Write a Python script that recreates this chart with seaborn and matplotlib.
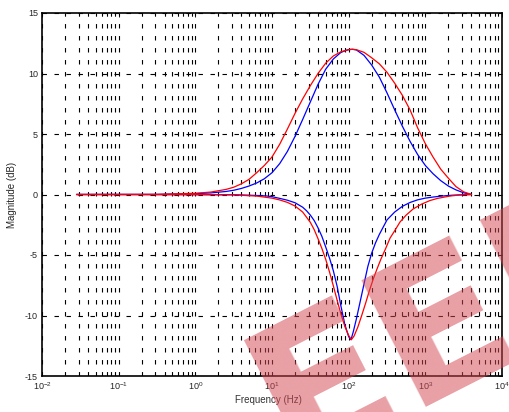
import numpy as np
import pandas as pd
import matplotlib
matplotlib.use("Agg")
import matplotlib.pyplot as plt
import seaborn as sns
from matplotlib.ticker import LogLocator, FixedLocator, NullFormatter, FuncFormatter

# Boost / cut responses of the two equalizer designs (frequency in Hz, magnitude in dB)
red_boost_f = [0.0282, 0.316, 1.0, 1.585, 2.512, 3.162, 3.981, 5.012, 6.310, 7.943, 10.0,
               12.59, 15.85, 19.95, 25.12, 31.62, 39.81, 50.12, 63.10, 79.43, 100.0, 112.2,
               125.9, 158.5, 199.5, 251.2, 316.2, 398.1, 501.2, 631.0, 794.3, 1000, 1259,
               1585, 1995, 2512, 3162, 4000]
red_boost_db = [0, 0.01, 0.1, 0.2, 0.42, 0.6, 0.88, 1.25, 1.8, 2.4, 3.1,
                4.15, 5.4, 6.7, 7.9, 9.0, 10.0, 10.85, 11.45, 11.8, 11.97, 12.0,
                11.97, 11.75, 11.3, 10.8, 10.1, 9.2, 8.2, 7.0, 5.5, 4.2, 3.1,
                2.1, 1.35, 0.65, 0.22, 0]

blue_boost_f = [0.0282, 0.316, 1.0, 1.585, 2.512, 3.162, 3.981, 5.012, 6.310, 7.943, 10.0,
                12.59, 15.85, 19.95, 25.12, 31.62, 39.81, 50.12, 63.10, 79.43, 100.0, 112.2,
                125.9, 158.5, 199.5, 251.2, 316.2, 398.1, 501.2, 631.0, 794.3, 1000, 1259,
                1585, 1995, 2512, 3162, 4000]
blue_boost_db = [0, 0.01, 0.07, 0.13, 0.25, 0.35, 0.5, 0.7, 0.95, 1.3, 1.8,
                 2.55, 3.55, 4.8, 6.2, 7.65, 9.1, 10.35, 11.2, 11.75, 11.98, 12.0,
                 11.95, 11.5, 10.7, 9.7, 8.4, 7.0, 5.65, 4.4, 3.3, 2.4, 1.72,
                 1.15, 0.7, 0.38, 0.14, 0]

red_cut_f = [0.0282, 1.0, 3.162, 6.310, 10.0, 12.59, 15.85, 19.95, 25.12, 31.62, 35.48,
             39.81, 44.67, 50.12, 56.23, 63.10, 70.79, 79.43, 89.13, 100.0, 108.4, 117.5,
             131.8, 147.9, 166.0, 186.2, 208.9, 234.4, 263.0, 302.0, 346.7, 398.1, 467.7,
             562.3, 691.8, 891.3, 1148, 1445, 1820, 2239, 2818, 4000]
red_cut_db = [0, -0.01, -0.03, -0.13, -0.3, -0.45, -0.65, -0.95, -1.45, -2.3, -2.9,
              -3.65, -4.45, -5.35, -6.4, -7.55, -8.75, -9.9, -10.9, -11.65, -12.0, -11.7,
              -10.95, -10.0, -9.0, -7.95, -7.0, -6.15, -5.35, -4.5, -3.6, -3.0, -2.27,
              -1.7, -1.2, -0.8, -0.5, -0.32, -0.2, -0.1, -0.04, 0]

blue_cut_f = [0.0282, 3.162, 6.310, 8.511, 10.0, 12.59, 15.85, 19.95, 25.12, 28.18, 31.62,
              35.48, 39.81, 44.67, 50.12, 56.23, 63.10, 70.79, 79.43, 89.13, 100.0, 107.2,
              114.8, 125.9, 141.3, 158.5, 177.8, 199.5, 223.9, 251.2, 316.2, 398.1, 501.2,
              631.0, 794.3, 1000, 1259, 1585, 1995, 2818, 4000]
blue_cut_db = [0, -0.02, -0.08, -0.12, -0.18, -0.32, -0.47, -0.68, -1.05, -1.34, -1.7,
               -2.15, -2.75, -3.45, -4.33, -5.25, -6.3, -7.6, -9.25, -10.75, -11.75, -12.0,
               -11.35, -10.3, -8.85, -7.4, -5.95, -4.85, -4.0, -3.3, -2.1, -1.45, -0.98,
               -0.66, -0.44, -0.3, -0.21, -0.14, -0.08, -0.03, 0]

y_ticks = [-15, -10, -5, 0, 5, 10, 15]
x_limits = (1e-2, 1e4)

curves = {
    "blue_cut": (blue_cut_f, blue_cut_db),
    "blue_boost": (blue_boost_f, blue_boost_db),
    "red_cut": (red_cut_f, red_cut_db),
    "red_boost": (red_boost_f, red_boost_db),
}
df = pd.concat(
    [pd.DataFrame({"curve": k, "freq": f, "mag": m}) for k, (f, m) in curves.items()],
    ignore_index=True,
)
palette = {"blue_cut": "#0000ff", "blue_boost": "#0000ff",
           "red_cut": "#ff0000", "red_boost": "#ff0000"}

sns.set_style("white")
plt.rcParams["font.family"] = ["Liberation Sans", "DejaVu Sans"]
plt.rcParams["axes.unicode_minus"] = False
plt.rcParams["mathtext.fontset"] = "custom"
plt.rcParams["mathtext.rm"] = "Liberation Sans"
plt.rcParams["mathtext.it"] = "Liberation Sans:italic"
plt.rcParams["mathtext.bf"] = "Liberation Sans:bold"

fig = plt.figure(figsize=(5.09, 4.12), dpi=100)
ax = fig.add_axes([42 / 509, 1 - 376 / 412, 460 / 509, 363 / 412])

sns.lineplot(data=df, x="freq", y="mag", hue="curve", hue_order=list(curves),
             palette=palette, estimator=None, sort=False, legend=False,
             linewidth=0.9, ax=ax)

ax.set_xscale("log")
ax.set_xlim(*x_limits)
ax.set_ylim(-15, 15)

ax.xaxis.set_major_locator(LogLocator(base=10, numticks=20))
ax.xaxis.set_minor_locator(LogLocator(base=10, subs=np.arange(2, 10), numticks=100))
ax.xaxis.set_minor_formatter(NullFormatter())
ax.xaxis.set_major_formatter(FuncFormatter(
    lambda v, p: r"$\mathregular{10^{%d}}$" % int(round(np.log10(v)))))
ax.yaxis.set_major_locator(FixedLocator(y_ticks))

# dotted-style grid, as drawn by the original plotting tool
grid_style = dict(color="black", linestyle=(0, (4.0, 6.8)), linewidth=0.8)
ax.grid(True, which="major", axis="both", **grid_style)
ax.grid(True, which="minor", axis="x", **grid_style)
ax.set_axisbelow(True)

ax.tick_params(which="both", direction="in", top=True, right=True,
               labelsize=6.5, width=0.6, color="black", pad=3)
ax.tick_params(which="major", length=3)
ax.tick_params(which="minor", length=1.8)

for s in ax.spines.values():
    s.set_linewidth(1.2)
    s.set_color("black")

ax.set_xlabel("Frequency (Hz)", fontsize=7, color="#333333")
ax.set_ylabel("Magnitude (dB)", fontsize=7)
ax.xaxis.set_label_coords(0.493, -0.052)
ax.yaxis.set_label_coords(-0.054, 0.5)

# semi-transparent site watermark across the lower right
fig.text(290 / 509, 1 - 467 / 412, "EEPW", fontsize=140, fontweight="bold",
         family="DejaVu Sans",
         color=(211 / 255, 72 / 255, 82 / 255), alpha=0.52, rotation=27,
         rotation_mode="anchor", ha="left", va="baseline", zorder=10)

fig.savefig("out.png", dpi=100)
